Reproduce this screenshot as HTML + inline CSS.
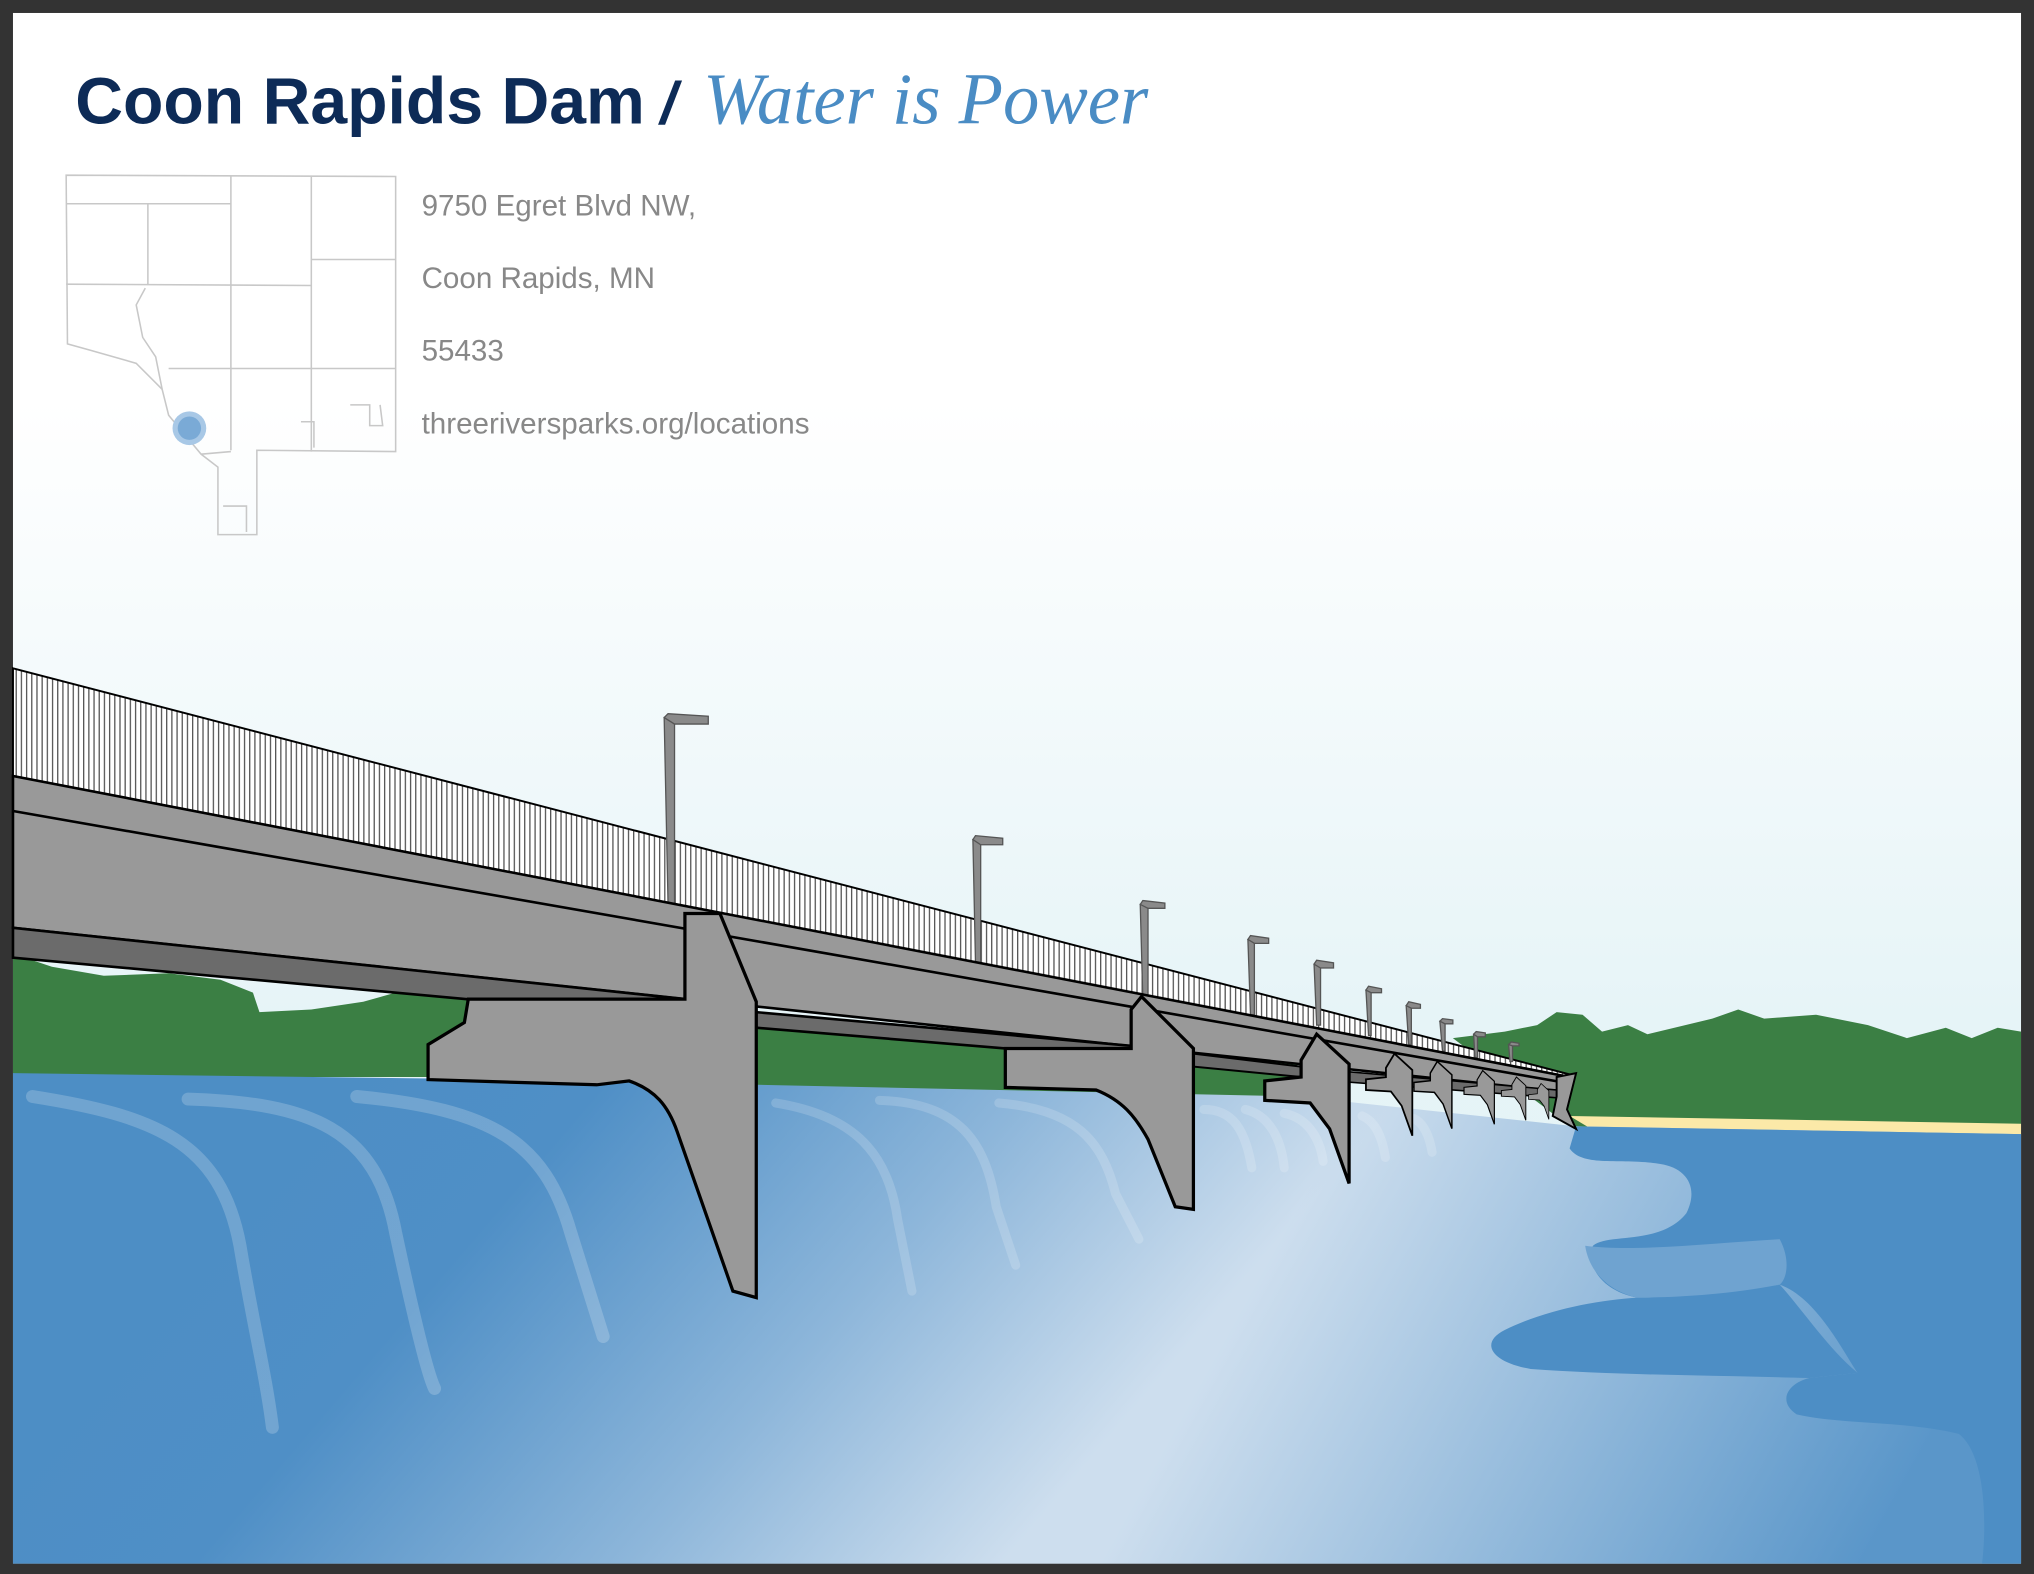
<!DOCTYPE html>
<html><head><meta charset="utf-8"><style>
html,body{margin:0;padding:0;background:#333;}
svg{display:block;}
</style></head><body>
<svg width="2034" height="1574" viewBox="0 0 1568 1213" preserveAspectRatio="none" xmlns="http://www.w3.org/2000/svg">
<defs>
<linearGradient id="sky" x1="0" y1="0" x2="0" y2="1">
<stop offset="0" stop-color="#ffffff"/><stop offset="0.25" stop-color="#ffffff"/><stop offset="0.65" stop-color="#e6f4f7"/><stop offset="1" stop-color="#e2f1f5"/>
</linearGradient>
<linearGradient id="wbase" gradientUnits="userSpaceOnUse" x1="220" y1="880" x2="700" y2="1290">
<stop offset="0" stop-color="#4d8ec5"/><stop offset="0.25" stop-color="#4f8fc6"/><stop offset="0.65" stop-color="#8db6da"/><stop offset="1" stop-color="#cddeee"/>
</linearGradient>
<linearGradient id="wover" gradientUnits="userSpaceOnUse" x1="1000" y1="930" x2="1450" y2="1180">
<stop offset="0" stop-color="#4d8ec5" stop-opacity="0"/><stop offset="1" stop-color="#4d8ec5" stop-opacity="0.9"/>
</linearGradient>
<pattern id="rail" width="4" height="10" patternUnits="userSpaceOnUse">
<rect width="4" height="10" fill="#fff"/><rect x="0" width="1" height="10" fill="#555"/>
</pattern>
<g id="pier"><path d="M0 0 L25 23 L25 115 L10 73 L-5 53 L-40 51 L-40 36 L-12 33 L-12 20 Z" fill="#999" stroke="#000" stroke-width="2.5" stroke-linejoin="miter"/></g>
</defs>
<rect x="0" y="0" width="1568" height="1213" fill="#333"/>
<rect x="10" y="10" width="1548" height="1195" fill="url(#sky)"/>

<text x="58" y="95" font-family="Liberation Sans, sans-serif" font-weight="bold" font-size="51" fill="#0d2b57">Coon Rapids Dam</text>
<text x="509" y="95" font-family="Liberation Sans, sans-serif" font-weight="bold" font-size="46" fill="#0d2b57" font-style="italic">/</text>
<text x="542" y="95" font-family="Liberation Serif, serif" font-style="italic" font-size="56" fill="#4a8cc4">Water is Power</text>

<g fill="none" stroke="#c8c8c8" stroke-width="1.2">
<path d="M51 135 L305 136 L305 348 L198 347 L198 412 L168 412 L168 360 L155 350 L130 320 L125 300 L105 280 L70 270 L52 265 Z"/>
<path d="M51 157 L178 157 M178 136 L178 347 M240 136 L240 348 M240 200 L305 200 M51 219 L240 220 M114 157 L114 219 M178 284 L305 284 M130 284 L178 284 M155 350 L178 348"/>
<path d="M112 222 L105 235 L110 260 L120 275 L125 300"/>
<path d="M270 312 L285 312 L285 328 L295 328 L293 312 M232 325 L242 325 L242 345 M172 390 L190 390 L190 410"/>
</g>
<circle cx="146" cy="330" r="13" fill="#a8c8e6"/>
<circle cx="146" cy="330" r="9" fill="#7aaad6"/>

<g font-family="Liberation Sans, sans-serif" font-size="22.8" fill="#888">
<text x="325" y="166">9750 Egret Blvd NW,</text>
<text x="325" y="222">Coon Rapids, MN</text>
<text x="325" y="278">55433</text>
<text x="325" y="334">threeriversparks.org/locations</text>
</g>

<!-- trees -->
<path d="M10 735 L40 745 L80 752 L130 750 L170 755 L195 765 L200 780 L240 778 L280 772 L305 765 L360 770 L360 830 L10 830 Z" fill="#3b7f44"/>
<path d="M583 790 L1000 815 L1000 845 L583 840 Z" fill="#3b7f44"/>
<path d="M1120 800 L1160 795 L1185 790 L1200 780 L1220 782 L1235 795 L1255 790 L1270 797 L1320 785 L1340 778 L1360 785 L1400 782 L1440 790 L1470 800 L1500 792 L1520 800 L1540 792 L1558 795 L1558 870 L1210 868 Z" fill="#3b7f44"/>
<path d="M1210 860 L1558 866 L1558 875 L1230 872 Z" fill="#fbe9a8"/>

<!-- water -->
<path d="M10 827 L400 832 L1000 845 L1215 868 L1558 874 L1558 1205 L10 1205 Z" fill="url(#wbase)"/>
<path d="M10 827 L400 832 L1000 845 L1215 868 L1558 874 L1558 1205 L10 1205 Z" fill="url(#wover)"/>
<path d="M1215 868 L1558 874 L1558 1205 L1528 1205 C1532 1170 1530 1120 1510 1105 C1470 1095 1420 1098 1385 1090 C1370 1080 1378 1066 1395 1062 L1432 1058 C1420 1040 1400 1000 1372 990 C1340 1000 1300 1000 1262 1000 C1235 995 1222 975 1228 960 C1240 950 1280 960 1300 935 C1310 915 1300 900 1280 897 C1250 892 1220 900 1210 885 Z" fill="#4d8ec5"/>
<path d="M1262 1000 C1300 1000 1340 998 1372 990 C1390 1010 1410 1040 1432 1058 L1395 1062 C1330 1060 1250 1060 1180 1055 C1150 1050 1140 1035 1160 1025 C1190 1010 1230 1002 1262 1000 Z" fill="#4d8ec5"/>
<path d="M1222 960 C1260 965 1320 958 1372 955 C1380 970 1378 985 1372 990 C1330 998 1290 1000 1262 1000 C1240 995 1225 980 1222 960 Z" fill="#6fa3d0"/>
<g fill="none" stroke="#ffffff" stroke-opacity="0.2" stroke-width="10" stroke-linecap="round">
<path d="M25 845 C120 860 170 880 185 960 C195 1020 205 1060 210 1100"/>
<path d="M145 847 C240 850 290 870 305 950 C320 1020 330 1060 335 1070"/>
<path d="M275 845 C380 855 420 880 440 950 L465 1030"/>
</g>
<g fill="none" stroke="#ffffff" stroke-opacity="0.17" stroke-width="7" stroke-linecap="round">
<path d="M598 850 C660 860 685 890 692 940 L703 995"/>
<path d="M678 848 C740 850 760 880 768 930 L783 975"/>
<path d="M770 850 C830 855 850 880 860 920 L878 955"/>
<path d="M928 855 C950 855 960 870 965 900"/>
<path d="M960 855 C980 860 988 880 990 900"/>
<path d="M990 858 C1010 862 1018 880 1020 895"/>
<path d="M1050 860 C1062 865 1066 880 1068 892"/>
<path d="M1090 862 C1098 866 1102 876 1104 888"/>
</g>

<!-- bridge railing -->
<path d="M10 515 L1210 828 L1210 830 L10 598 Z" fill="url(#rail)" stroke="#000" stroke-width="1.5"/>
<!-- lamp posts -->
<g fill="#8a8a8a" stroke="#555" stroke-width="1">
<path d="M512 553 L520 553 L520 697 L515 697 Z"/><path d="M512 553 L515 550 L546 552 L546 558 L520 558 Z"/>
<path d="M750 647 L756 647 L756 742 L752 742 Z"/><path d="M750 647 L752 644 L773 646 L773 651 L756 651 Z"/>
<path d="M879 697 L885 697 L885 770 L881 770 Z"/><path d="M879 697 L881 694 L898 696 L898 700 L885 700 Z"/>
<path d="M962 724 L967 724 L967 782 L964 782 Z"/><path d="M962 724 L964 721 L978 723 L978 727 L967 727 Z"/>
<path d="M1013 743 L1018 743 L1018 790 L1015 790 Z"/><path d="M1013 743 L1015 740 L1028 742 L1028 746 L1018 746 Z"/>
<path d="M1053 763 L1057 763 L1057 798 L1055 798 Z"/><path d="M1053 763 L1055 760 L1065 762 L1065 765 L1057 765 Z"/>
<path d="M1084 775 L1088 775 L1088 805 L1086 805 Z"/><path d="M1084 775 L1086 772 L1095 774 L1095 777 L1088 777 Z"/>
<path d="M1110 787 L1114 787 L1114 810 L1112 810 Z"/><path d="M1110 787 L1112 785 L1120 786 L1120 789 L1114 789 Z"/>
<path d="M1136 797 L1139 797 L1139 815 L1137 815 Z"/><path d="M1136 797 L1138 795 L1145 796 L1145 799 L1139 799 Z"/>
<path d="M1163 805 L1166 805 L1166 818 L1164 818 Z"/><path d="M1163 805 L1165 803 L1171 804 L1171 806 L1166 806 Z"/>
</g>
<!-- deck -->
<path d="M10 598 L1210 830 L1210 842 L10 715 Z" fill="#999" stroke="#000" stroke-width="2"/>
<path d="M10 625 L1210 835" stroke="#000" stroke-width="2"/>
<!-- underside -->
<path d="M10 715 L528 770 L528 773 L360 770 L10 738 Z" fill="#6b6b6b" stroke="#000" stroke-width="2"/>
<path d="M583 780 L872 806 L872 808 L775 808 L583 792 Z" fill="#6b6b6b" stroke="#000" stroke-width="2"/>
<path d="M920 812 L1003 822 L1003 830 L920 822 Z" fill="#6b6b6b" stroke="#000" stroke-width="1.5"/>
<path d="M1040 826 L1200 840 L1200 846 L1040 834 Z" fill="#6b6b6b" stroke="#000" stroke-width="1.2"/>
<!-- piers -->
<path d="M528 704 L555 704 L583 772 L583 1000 L565 995 L522 872 C515 852 505 840 485 833 L460 836 L330 832 L330 805 L358 788 L361 770 L528 770 Z" fill="#999" stroke="#000" stroke-width="2.5" stroke-linejoin="miter"/>
<path d="M872 778 L880 768 L920 808 L920 932 L906 930 L885 878 C875 860 865 848 845 840 L775 838 L775 808 L872 808 Z" fill="#999" stroke="#000" stroke-width="2.5"/>
<use href="#pier" transform="translate(1015 797)"/>
<use href="#pier" transform="translate(1075 812) scale(0.55)"/>
<use href="#pier" transform="translate(1108 818) scale(0.45)"/>
<use href="#pier" transform="translate(1143 825) scale(0.36)"/>
<use href="#pier" transform="translate(1169 830) scale(0.29)"/>
<use href="#pier" transform="translate(1188 835) scale(0.24)"/>
<path d="M1200 830 L1215 827 L1208 855 L1215 870 L1197 860 L1200 845 Z" fill="#999" stroke="#000" stroke-width="1.5"/>
</svg>
</body></html>
